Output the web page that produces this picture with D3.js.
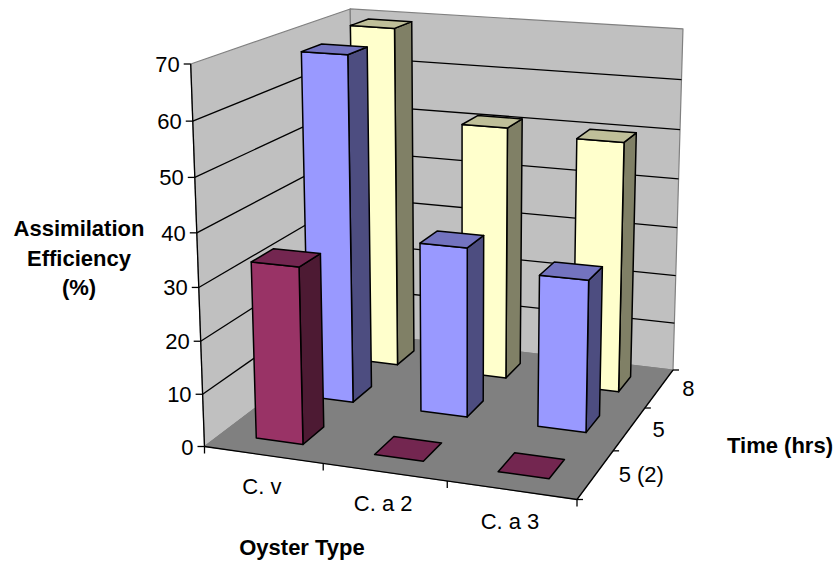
<!DOCTYPE html>
<html>
<head>
<meta charset="utf-8">
<script src="https://cdn.jsdelivr.net/npm/d3@7"></script>
<style>
  body { margin: 0; background: #fff; }
  text { font-family: "Liberation Sans", Arial, sans-serif; fill: #000; }
</style>
</head>
<body>
<div id="plot"></div>
<script>
var categories = ["C. v", "C. a 2", "C. a 3"];
var seriesNames = ["5 (2)", "5", "8"];   // front to back
var seriesFront = [33.5, 0, 0];
var seriesMiddle = [67.8, 33.2, 29.4];
var seriesBack = [69.3, 51.2, 50.2];
var valueTicks = [0, 10, 20, 30, 40, 50, 60, 70];

var seriesValues = [seriesFront, seriesMiddle, seriesBack];
var seriesColors = [
  {front: "#993366", top: "#732650", side: "#4d1a33"},
  {front: "#9999ff", top: "#7373bf", side: "#4d4d80"},
  {front: "#ffffcc", top: "#bfbf99", side: "#808066"}
];

var width = 840, height = 561;

var svg = d3.select("#plot").append("svg")
    .attr("width", width)
    .attr("height", height);

// floor corners on screen: front left, front right, back right, back left
var floor = [[204.5, 446.5], [577, 499.5], [673, 370], [355, 332.5]];
var vanish = [462, 7587];   // where the uprights meet
var topFrontLeft = 64;

// projective camera built from the floor quad
var homography = function(q) {
  var dx1 = q[1][0] - q[2][0], dx2 = q[3][0] - q[2][0], sx = q[0][0] - q[1][0] + q[2][0] - q[3][0],
      dy1 = q[1][1] - q[2][1], dy2 = q[3][1] - q[2][1], sy = q[0][1] - q[1][1] + q[2][1] - q[3][1],
      den = dx1 * dy2 - dx2 * dy1,
      g = (sx * dy2 - dx2 * sy) / den,
      h = (dx1 * sy - sx * dy1) / den;
  return {
    a: q[1][0] - q[0][0] + g * q[1][0], b: q[3][0] - q[0][0] + h * q[3][0], c: q[0][0],
    d: q[1][1] - q[0][1] + g * q[1][1], e: q[3][1] - q[0][1] + h * q[3][1], f: q[0][1],
    g: g, h: h
  };
}
var H = homography(floor);
var ez = (topFrontLeft - floor[0][1]) / (vanish[1] - topFrontLeft);

var project = function(u, v, z) {
  var w = H.g * u + H.h * v + 1 + ez * z;
  return [(H.a * u + H.b * v + H.c + ez * vanish[0] * z) / w,
          (H.d * u + H.e * v + H.f + ez * vanish[1] * z) / w];
}

var xScale = d3.scaleBand().domain(categories).range([-0.001, 0.999]).paddingInner(0.6).paddingOuter(0.3);
var depthScale = d3.scaleBand().domain(seriesNames).range([0, 1]).paddingInner(0.6).paddingOuter(0.3);
var zScale = d3.scaleLinear().domain([0, 70]).range([0, 1]);

var poly = function(pts) {
  return "M" + pts.map(function(p) { return p[0] + "," + p[1]; }).join("L") + "Z";
}

var face = function(pts, fill, stroke, sw) {
  svg.append("path")
      .attr("d", poly(pts))
      .attr("fill", fill)
      .attr("stroke", stroke)
      .attr("stroke-width", sw)
      .attr("stroke-linejoin", "round");
}

var line = function(a, b, sw, color) {
  svg.append("line")
      .attr("x1", a[0]).attr("y1", a[1])
      .attr("x2", b[0]).attr("y2", b[1])
      .attr("stroke", color || "#000")
      .attr("stroke-width", sw);
}

// walls and floor
face([project(0, 0, 0), project(0, 1, 0), project(0, 1, 1), project(0, 0, 1)], "#c0c0c0", "#808080", 1.2);
face([project(0, 1, 0), project(1, 1, 0), project(1, 1, 1), project(0, 1, 1)], "#c0c0c0", "#808080", 1.2);
face([project(0, 0, 0), project(1, 0, 0), project(1, 1, 0), project(0, 1, 0)], "#808080", "#808080", 1);

// gridlines on both walls
valueTicks.slice(1, -1).forEach(function(t) {
  var z = zScale(t);
  line(project(0, 0, z), project(0, 1, z), 1.3);
  line(project(0, 1, z), project(1, 1, z), 1.3);
});

// axes
line(project(0, 0, 0), project(0, 0, 1), 1.3);
line(project(0, 0, 0), project(1, 0, 0), 1.3);
line(project(1, 0, 0), project(1, 1, 0), 1.3);

valueTicks.forEach(function(t) {
  var p = project(0, 0, zScale(t));
  line([p[0] - 7, p[1]], p, 1.3);
  svg.append("text")
      .attr("x", p[0] - 11)
      .attr("y", p[1] + 8)
      .attr("text-anchor", "end")
      .attr("font-size", 22)
      .text(t);
});

d3.range(categories.length + 1).forEach(function(i) {
  var p = project(i / categories.length, 0, 0);
  line(p, [p[0], p[1] + 7], 1.3);
});
d3.range(seriesNames.length + 1).forEach(function(i) {
  var p = project(1, i / seriesNames.length, 0);
  line(p, [p[0] + 6, p[1]], 1.3);
});

categories.forEach(function(c) {
  var p = project(xScale(c) + xScale.bandwidth() / 2, 0, 0);
  svg.append("text")
      .attr("x", p[0] - 1)
      .attr("y", p[1] + 39)
      .attr("text-anchor", "middle")
      .attr("font-size", 22)
      .text(c);
});

seriesNames.forEach(function(s) {
  var p = project(1, depthScale(s) + depthScale.bandwidth() / 2, 0);
  svg.append("text")
      .attr("x", p[0] + 23)
      .attr("y", p[1] + 8)
      .attr("font-size", 22)
      .text(s);
});

// bars, back row first so the front ones sit on top
d3.range(seriesNames.length - 1, -1, -1).forEach(function(si) {
  var v0 = depthScale(seriesNames[si]),
      v1 = v0 + depthScale.bandwidth(),
      color = seriesColors[si];
  categories.forEach(function(c, ci) {
    var u0 = xScale(c),
        u1 = u0 + xScale.bandwidth(),
        z = zScale(seriesValues[si][ci]);
    if (z > 0) {
      face([project(u1, v0, 0), project(u1, v1, 0), project(u1, v1, z), project(u1, v0, z)], color.side, "#000", 1.5);
      face([project(u0, v0, 0), project(u1, v0, 0), project(u1, v0, z), project(u0, v0, z)], color.front, "#000", 1.5);
    }
    face([project(u0, v0, z), project(u1, v0, z), project(u1, v1, z), project(u0, v1, z)], color.top, "#000", 1.5);
  });
});

// axis titles
var yTitle = ["Assimilation", "Efficiency", "(%)"];
yTitle.forEach(function(t, i) {
  svg.append("text")
      .attr("x", 79)
      .attr("y", 236 + i * 29.5)
      .attr("text-anchor", "middle")
      .attr("font-size", 22)
      .attr("font-weight", "bold")
      .text(t);
});
svg.append("text")
    .attr("x", 302)
    .attr("y", 555)
    .attr("text-anchor", "middle")
    .attr("font-size", 22)
    .attr("font-weight", "bold")
    .text("Oyster Type");
svg.append("text")
    .attr("x", 780)
    .attr("y", 453)
    .attr("text-anchor", "middle")
    .attr("font-size", 22)
    .attr("font-weight", "bold")
    .text("Time (hrs)");
</script>
</body>
</html>
